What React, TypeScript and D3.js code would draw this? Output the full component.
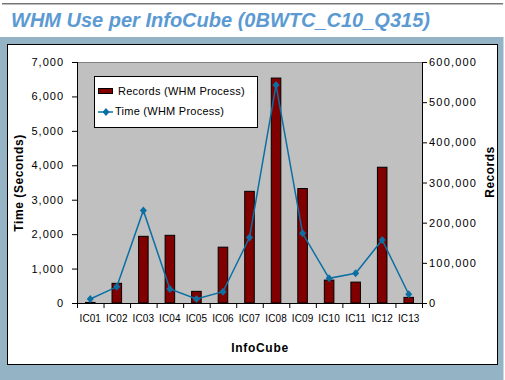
import React from "react";
import * as d3 from "d3";

const categories = ["IC01","IC02","IC03","IC04","IC05","IC06","IC07","IC08","IC09","IC10","IC11","IC12","IC13"];
const records = [1500, 49000, 166000, 168500, 29000, 139000, 278000, 560000, 285000, 57000, 52000, 338000, 14000];
const timeSec = [116, 470, 2690, 407, 116, 328, 1900, 6330, 2024, 717, 863, 1830, 253];
const leftTicks = [0, 1000, 2000, 3000, 4000, 5000, 6000, 7000];
const rightTicks = [0, 100000, 200000, 300000, 400000, 500000, 600000];

const W = 505, H = 380;
const plot = { l: 77, r: 422, t: 62, b: 303 };
const FONT = "'Liberation Sans', Arial, sans-serif";

export default function App() {
  const x = d3.scaleBand<string>().domain(categories).range([plot.l, plot.r]).paddingInner(0).paddingOuter(0);
  const yL = d3.scaleLinear().domain([0, 7000]).range([plot.b, plot.t]);
  const yR = d3.scaleLinear().domain([0, 600000]).range([plot.b, plot.t]);
  const fmt = d3.format(",");
  const bw = x.bandwidth() * 0.36;
  const cx = (c: string) => (x(c) as number) + x.bandwidth() / 2;
  const line = d3.line<number>().x((_, i) => cx(categories[i])).y(d => yL(d));
  const lineColor = "#0b6fa4";
  const diamond = (px: number, py: number) => `M${px},${py - 4}L${px + 3.5},${py}L${px},${py + 4}L${px - 3.5},${py}Z`;
  const boundaries = d3.range(categories.length + 1).map(i => plot.l + i * x.bandwidth());

  return (
    <svg width={W} height={H} style={{ position: "absolute", left: 0, top: 0 }} fontFamily={FONT}>
      <rect x={0} y={0} width={W} height={H} fill="#fff" />
      <rect x={2} y={3} width={501} height={1.5} fill="#767676" />
      <text x={11} y={27} fontSize={20} fontWeight="bold" fontStyle="italic" fill="#5b9ad2">WHM Use per InfoCube (0BWTC_C10_Q315)</text>
      <rect x={0} y={37} width={503.5} height={343} fill="#94b4c5" />
      <rect x={7.5} y={44.5} width={490} height={320} fill="#fff" stroke="#000" strokeWidth={1} />

      <rect x={plot.l} y={plot.t} width={plot.r - plot.l} height={plot.b - plot.t} fill="#c0c0c0" />
      <line x1={plot.l} x2={plot.r} y1={plot.t + 0.5} y2={plot.t + 0.5} stroke="#808080" />

      {categories.map((c, i) => (
        <rect key={c} x={cx(c) - bw / 2} y={yR(records[i])} width={bw} height={plot.b - yR(records[i])}
          fill="#800000" stroke="#000" strokeWidth={1} />
      ))}

      <path d={line(timeSec) || ""} fill="none" stroke={lineColor} strokeWidth={1.5} />
      {timeSec.map((t, i) => (
        <path key={i} d={diamond(cx(categories[i]), yL(t))} fill={lineColor} />
      ))}

      {/* left axis */}
      <line x1={plot.l + 0.5} x2={plot.l + 0.5} y1={plot.t} y2={plot.b} stroke="#000" />
      {leftTicks.map(t => (
        <g key={t}>
          <line x1={plot.l - 5} x2={plot.l} y1={yL(t) + 0.5} y2={yL(t) + 0.5} stroke="#000" />
          <text x={64} y={yL(t) + 4} textAnchor="end" fontSize={11} letterSpacing={1} fill="#000">{fmt(t)}</text>
        </g>
      ))}
      {/* right axis */}
      <line x1={plot.r + 0.5} x2={plot.r + 0.5} y1={plot.t} y2={plot.b} stroke="#000" />
      {rightTicks.map(t => (
        <g key={t}>
          <line x1={plot.r} x2={plot.r + 5} y1={yR(t) + 0.5} y2={yR(t) + 0.5} stroke="#000" />
          <text x={429} y={yR(t) + 4} textAnchor="start" fontSize={11} letterSpacing={1.2} fill="#000">{fmt(t)}</text>
        </g>
      ))}
      {/* x axis */}
      <line x1={plot.l} x2={plot.r + 1} y1={plot.b + 0.5} y2={plot.b + 0.5} stroke="#000" />
      {boundaries.map((b, i) => (
        <line key={i} x1={b + 0.5} x2={b + 0.5} y1={plot.b} y2={plot.b + 5} stroke="#000" />
      ))}
      {categories.map(c => (
        <text key={c} x={cx(c)} y={322} textAnchor="middle" fontSize={10} letterSpacing={0.1} fill="#000">{c}</text>
      ))}

      <text x={260} y={352} textAnchor="middle" fontSize={12} fontWeight="bold" letterSpacing={0.7} fill="#000">InfoCube</text>
      <text transform="translate(23,183) rotate(-90)" textAnchor="middle" fontSize={12} fontWeight="bold" letterSpacing={0.6} fill="#000">Time (Seconds)</text>
      <text transform="translate(494,172) rotate(-90)" textAnchor="middle" fontSize={12} fontWeight="bold" letterSpacing={0.5} fill="#000">Records</text>

      {/* legend */}
      <rect x={94.5} y={76.5} width={163} height={51} fill="#fff" stroke="#000" />
      <rect x={98.5} y={88.5} width={14} height={5} fill="#800000" stroke="#000" />
      <text x={118} y={95} fontSize={11} letterSpacing={0.25} fill="#000">Records (WHM Process)</text>
      <line x1={98} x2={113} y1={112} y2={112} stroke={lineColor} strokeWidth={1.5} />
      <path d={diamond(106, 112)} fill={lineColor} />
      <text x={115} y={115} fontSize={11} letterSpacing={0.25} fill="#000">Time (WHM Process)</text>
    </svg>
  );
}
